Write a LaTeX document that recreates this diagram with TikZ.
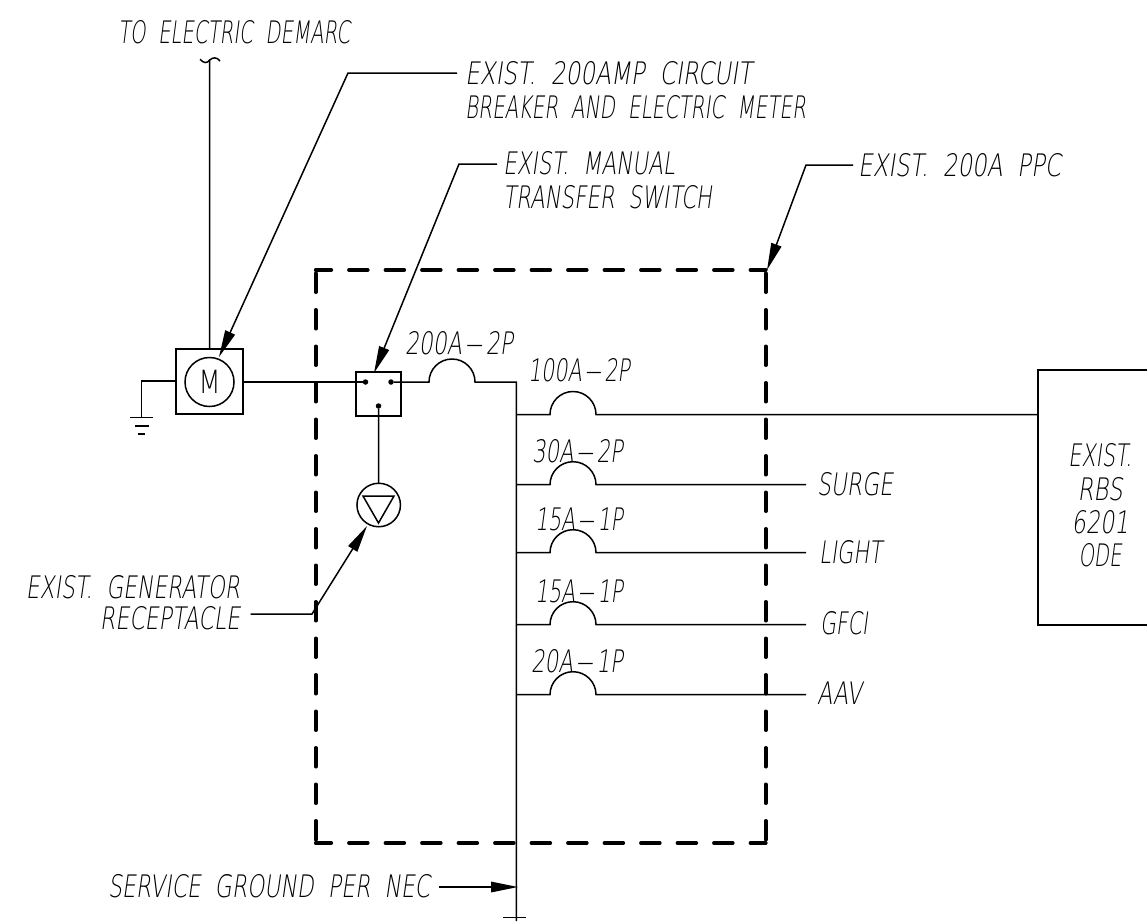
\documentclass[tikz,border=0pt]{standalone}
\usepackage{graphicx}
\usepackage{fontspec}
\setmainfont[FakeSlant=0.2]{DejaVu Sans ExtraLight}
\newcommand{\fitw}[2]{\resizebox{#1pt}{\height}{#2}}
\newcommand{\dsh}{\,\scalebox{0.75}[1]{---}\,}
\usetikzlibrary{arrows.meta}
\tikzset{
  wire/.style={draw=black,line width=1.5pt},
  leader/.style={draw=black,line width=1.5pt,-{Triangle[length=27pt,width=10.5pt]},shorten >=0pt},
  frameh/.style={draw=black,line width=3.8pt,line cap=round,dash pattern=on 18.7pt off 17.8pt,dash phase=3.2pt},
  framev/.style={draw=black,line width=3.8pt,line cap=round,dash pattern=on 18.7pt off 17.8pt},
  lbl/.style={inner sep=0pt,outer sep=0pt,font=\fontsize{31}{34}\selectfont,align=left},
  boxed/.style={draw=black,line width=1.5pt,inner sep=0pt,outer sep=0pt},
  spot/.style={circle,fill=black,inner sep=0pt,minimum size=5.5pt},
}
\begin{document}
\begin{tikzpicture}[x=1pt,y=-1pt]
\useasboundingbox (0,0) rectangle (1147,921);
\draw[frameh] (315.7,270) -- (765.7,270);
\draw[frameh] (315.7,843) -- (765.7,843);
\draw[framev] (315.7,273.4) -- (315.7,843);
\draw[framev] (765.7,273.4) -- (765.7,843);
\node[lbl,anchor=west] (demarc) at (118,32.5) {\fitw{232}{TO\ \ ELECTRIC\ \ DEMARC}};
\node[lbl,anchor=west] (cb) at (465,90) {\fitw{287}{EXIST.\ \ 200AMP\ \ CIRCUIT}\\\fitw{341}{BREAKER\ \ AND\ \ ELECTRIC\ \ METER}};
\node[lbl,anchor=west] (mts) at (503,180) {\fitw{172}{EXIST.\ \ MANUAL}\\\fitw{209}{TRANSFER\ \ SWITCH}};
\node[lbl,anchor=west] (ppc) at (858,165) {\fitw{203}{EXIST.\ \ 200A\ \ PPC}};
\node[lbl,anchor=east,align=right] (gen) at (240,602.5) {\fitw{214}{EXIST.\ \ GENERATOR}\\[-2.5pt]\fitw{140}{RECEPTACLE}};
\node[lbl,anchor=west] (gnd) at (108,886) {\fitw{322}{SERVICE\ \ GROUND\ \ PER\ \ NEC}};
\node[lbl,anchor=west] (b200) at (405,343) {\fitw{108}{200A\dsh 2P}};
\node[lbl,anchor=west] (b100) at (528,370) {\fitw{102}{100A\dsh 2P}};
\node[lbl,anchor=west] (b30) at (532,451) {\fitw{91}{30A\dsh 2P}};
\node[lbl,anchor=west] (b15a) at (535,519) {\fitw{88}{15A\dsh 1P}};
\node[lbl,anchor=west] (b15b) at (535,591) {\fitw{88}{15A\dsh 1P}};
\node[lbl,anchor=west] (b20) at (531,661) {\fitw{92}{20A\dsh 1P}};
\node[lbl,anchor=west] (surge) at (817,484) {\fitw{76}{SURGE}};
\node[lbl,anchor=west] (light) at (819,552) {\fitw{63}{LIGHT}};
\node[lbl,anchor=west] (gfci) at (820,623) {\fitw{48}{GFCI}};
\node[lbl,anchor=west] (aav) at (817,693) {\fitw{45}{AAV}};
\node[boxed,minimum width=67pt,minimum height=65pt] (meterbox) at (209.5,381.5) {};
\node[boxed,circle,minimum size=49pt,font=\fontsize{32}{34}\selectfont] (meter) at (209.5,382) {\addfontfeature{FakeSlant=0}\fitw{22}{M}};
\node[boxed,minimum width=45pt,minimum height=44pt] (switch) at (378.5,394) {};
\node[spot] (s1) at (365.5,382) {};
\node[spot] (s2) at (391,382) {};
\node[spot] (s3) at (378.5,406) {};
\node[boxed,circle,minimum size=43.5pt] (recept) at (378.7,505) {};
\draw[wire] (363,496) -- (394,496) -- (378.5,523) -- cycle;
\draw[wire] (1147,370) -- (1038,370) -- (1038,625) -- (1147,625);
\node[lbl,anchor=center,align=center] (rbs) at (1100,505.5) {\fitw{64}{EXIST.}\\[-0.7pt]\fitw{45}{RBS}\\[-0.7pt]\fitw{57}{6201}\\[-0.7pt]\fitw{43}{ODE}};
\coordinate (feedtop) at (209.7,60);
\draw[wire] (meterbox.north) -- (feedtop);
\draw[wire] (200,59.3) .. controls (204,63.5) and (207,63.5) .. (209.7,60) .. controls (213,57) and (217,57) .. (220,61);
\coordinate (gbend) at (141.7,381);
\coordinate (gbar) at (141.7,417.5);
\draw[wire] (meterbox.west |- gbend) -- (gbend) -- (gbar);
\draw[wire] (130,417.5) -- (153,417.5);
\draw[wire] (134.5,426) -- (149,426);
\draw[wire] (138,434) -- (145,434);
\coordinate (bus) at (516.3,382);
\coordinate (busend) at (516.3,921);
\draw[wire] (meterbox.east |- s1) -- (s1);
\draw[wire] (s2) -- (429,382) arc[start angle=180,end angle=0,radius=23pt] -- (bus) -- (busend);
\draw[wire] (s3) -- (recept);
\draw[wire] (503,917.5) -- (526,917.5);
\foreach \yy/\ee in {414.5/1038,484.7/806,552.7/806,624.7/806,694.7/806}{
  \draw[wire] (516.3,\yy) -- (550,\yy) arc[start angle=180,end angle=0,radius=23pt] -- (\ee,\yy);
}
\coordinate (cb1) at (457,73); \coordinate (cb2) at (348,73); \coordinate (cbt) at (219,357);
\draw[leader] (cb1) -- (cb2) -- (cbt);
\coordinate (mt1) at (497,164); \coordinate (mt2) at (459,164); \coordinate (mtt) at (374,373);
\draw[leader] (mt1) -- (mt2) -- (mtt);
\coordinate (pp1) at (853,165); \coordinate (pp2) at (806,165); \coordinate (ppt) at (767,270);
\draw[leader] (pp1) -- (pp2) -- (ppt);
\coordinate (ge1) at (250.7,614); \coordinate (ge2) at (312,614); \coordinate (get) at (367,526);
\draw[leader] (ge1) -- (ge2) -- (get);
\coordinate (gn1) at (439,887); \coordinate (gnt) at (518,887);
\draw[leader] (gn1) -- (gnt);
\end{tikzpicture}
\end{document}
